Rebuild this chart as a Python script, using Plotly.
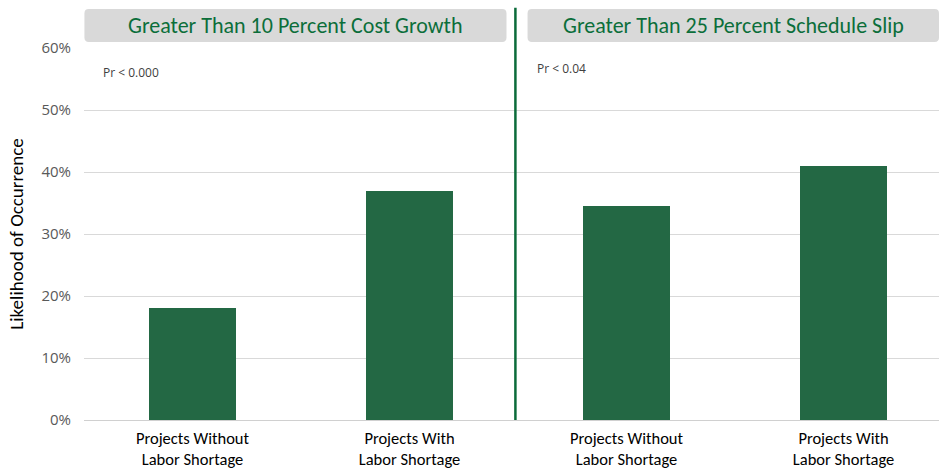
import plotly.graph_objects as go

categories = ["Projects Without<br>Labor Shortage", "Projects With<br>Labor Shortage",
              "Projects Without<br>Labor Shortage", "Projects With<br>Labor Shortage"]
values = [0.18, 0.37, 0.345, 0.41]
panel_titles = ["Greater Than 10 Percent Cost Growth", "Greater Than 25 Percent Schedule Slip"]
pr_texts = ["Pr < 0.000", "Pr < 0.04"]
y_ticks = [0, 0.1, 0.2, 0.3, 0.4, 0.5, 0.6]
y_ticklabels = ["0%", "10%", "20%", "30%", "40%", "50%", "60%"]

xpos = list(range(len(categories)))

fig = go.Figure()
fig.add_trace(go.Bar(x=xpos, y=values, width=0.40, marker=dict(color="#236844", line=dict(width=0)),
                     hoverinfo="skip"))

W, H = 939, 472
L, R, T, B = 84, 0, 48, 52
xr = [-0.5, 3.44]

fig.update_layout(
    width=W, height=H,
    margin=dict(l=L, r=R, t=T, b=B),
    plot_bgcolor="white", paper_bgcolor="white",
    showlegend=False,
    bargap=0,
    font=dict(family="Carlito, Calibri, Liberation Sans Narrow, Open Sans, sans-serif"),
    xaxis=dict(range=xr, tickmode="array", tickvals=xpos, ticktext=categories, automargin=False,
               ticklabelstandoff=3,
               showgrid=False, zeroline=False, showline=True, linecolor="#d0d0d0", linewidth=1, ticks="",
               tickfont=dict(size=16.5, color="black", family="Carlito, Liberation Sans Narrow, sans-serif")),
    yaxis=dict(range=[0, 0.6], tickmode="array", tickvals=y_ticks, ticktext=y_ticklabels,
               automargin=False, ticklabelstandoff=12,
               showgrid=True, gridcolor="#d9d9d9", gridwidth=1, zeroline=False, showline=False,
               ticks="", ticklen=0, tickfont=dict(size=15, color="#595959", family="Open Sans, sans-serif"),
               title=dict(text="Likelihood of Occurrence", font=dict(size=19, color="black",
                          family="Carlito, Open Sans, sans-serif"), standoff=12)),
)

# divider line
fig.add_shape(type="line", xref="x", yref="paper", x0=1.488, x1=1.488, y0=0, y1=1.108,
              line=dict(color="#0b6b3a", width=2.5))

def rounded_box(x0, x1, y0, y1, rx=0.02, ry=0.012):
    return (f"M {x0+rx},{y0} L {x1-rx},{y0} Q {x1},{y0} {x1},{y0+ry} "
            f"L {x1},{y1-ry} Q {x1},{y1} {x1-rx},{y1} L {x0+rx},{y1} "
            f"Q {x0},{y1} {x0},{y1-ry} L {x0},{y0+ry} Q {x0},{y0} {x0+rx},{y0} Z")

boxes = [(-0.498, 1.447), (1.544, 3.44)]
for (bx0, bx1), title in zip(boxes, panel_titles):
    fig.add_shape(type="path", xref="x", yref="paper",
                  path=rounded_box(bx0, bx1, 1.016, 1.105),
                  fillcolor="#d9d9d9", line=dict(width=0), layer="below")
    fig.add_annotation(x=(bx0 + bx1) / 2, y=1.06, xref="x", yref="paper", text=title,
                       showarrow=False, font=dict(size=22, color="#0b6e3a",
                       family="Carlito, Open Sans, sans-serif"), yanchor="middle")

pr_pos = [(-0.42, 0.935), (1.58, 0.945)]
for (px, py), t in zip(pr_pos, pr_texts):
    fig.add_annotation(x=px, y=py, xref="x", yref="paper", text=t, showarrow=False,
                       xanchor="left", yanchor="middle",
                       font=dict(size=12, color="#404040", family="Open Sans, sans-serif"))

fig.write_html("out.html", config={"displayModeBar": False},
               post_script="document.body.style.margin='0';document.body.style.overflow='hidden';")
